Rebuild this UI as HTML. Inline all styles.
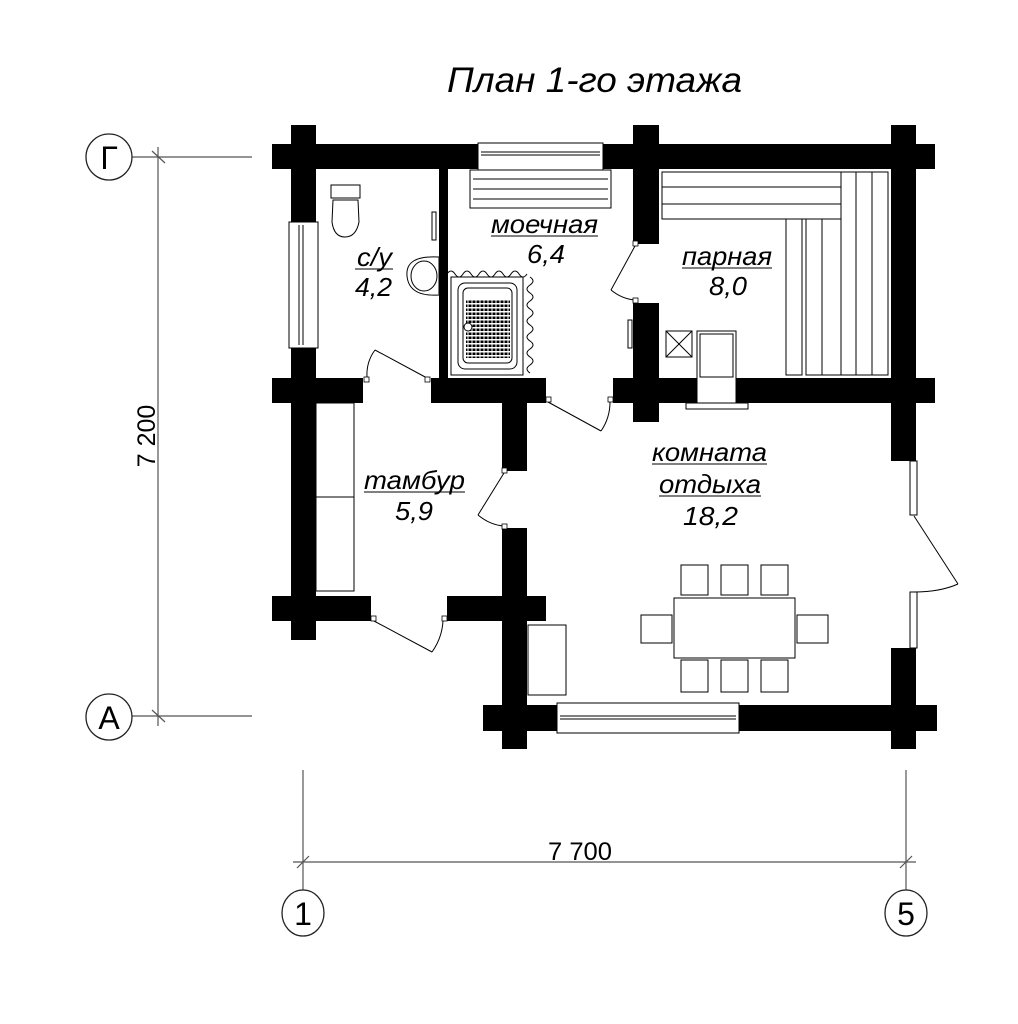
<!DOCTYPE html>
<html><head><meta charset="utf-8"><style>
html,body{margin:0;padding:0;background:#fff;}
svg{display:block;}
text{font-family:"Liberation Sans",sans-serif;fill:#000;}
</style></head><body>
<svg width="1018" height="1024" viewBox="0 0 1018 1024" xmlns="http://www.w3.org/2000/svg">
<defs>
<pattern id="dots" width="4" height="4" patternUnits="userSpaceOnUse"><rect x="0.5" y="0.5" width="3" height="2.5" fill="#000"/></pattern>
</defs>
<text x="447" y="92" font-size="35" font-style="italic" textLength="295" lengthAdjust="spacingAndGlyphs">План 1-го этажа</text>

<!-- dimension lines -->
<g stroke="#555" stroke-width="1.2" fill="none">
<line x1="132" y1="157" x2="252" y2="157"/>
<line x1="132" y1="716" x2="252" y2="716"/>
<line x1="158" y1="147" x2="158" y2="726"/>
<line x1="152" y1="151" x2="165" y2="163"/>
<line x1="152" y1="710" x2="165" y2="722"/>
<line x1="303" y1="770" x2="303" y2="890"/>
<line x1="906" y1="770" x2="906" y2="890"/>
<line x1="293" y1="862" x2="916" y2="862"/>
<line x1="297" y1="868" x2="309" y2="856"/>
<line x1="900" y1="868" x2="912" y2="856"/>
</g>
<g stroke="#222" stroke-width="1.3" fill="#fff">
<circle cx="109" cy="157" r="23"/>
<circle cx="109" cy="717" r="23"/>
<ellipse cx="303" cy="913" rx="21" ry="23"/>
<ellipse cx="906" cy="913" rx="21" ry="23"/>
</g>
<text x="109" y="169" font-size="32" text-anchor="middle">Г</text>
<text x="109" y="729" font-size="32" text-anchor="middle">А</text>
<text x="303" y="925" font-size="32" text-anchor="middle">1</text>
<text x="906" y="925" font-size="32" text-anchor="middle">5</text>
<text x="548" y="860" font-size="25" textLength="64" lengthAdjust="spacingAndGlyphs">7 700</text>
<text transform="translate(155,436) rotate(-90)" font-size="25" text-anchor="middle">7 200</text>

<!-- walls -->
<g fill="#000">
<rect x="272" y="144" width="206" height="25"/>
<rect x="603" y="144" width="332" height="25"/>
<rect x="291" y="125" width="25" height="97"/>
<rect x="291" y="348" width="25" height="292"/>
<rect x="439" y="169" width="9" height="209"/>
<rect x="272" y="378" width="91" height="25"/>
<rect x="431" y="378" width="115" height="25"/>
<rect x="613" y="378" width="84" height="25"/>
<rect x="736" y="378" width="199" height="25"/>
<rect x="502" y="403" width="25" height="68"/>
<rect x="502" y="528" width="25" height="221"/>
<rect x="633" y="125" width="26" height="119"/>
<rect x="633" y="303" width="26" height="119"/>
<rect x="891" y="125" width="25" height="336"/>
<rect x="891" y="648" width="25" height="101"/>
<rect x="272" y="596" width="99" height="25"/>
<rect x="447" y="596" width="99" height="25"/>
<rect x="483" y="705" width="74" height="26"/>
<rect x="739" y="705" width="198" height="26"/>
</g>

<g fill="#fff" stroke="#000" stroke-width="1">
<rect x="289" y="222" width="29" height="126"/>
<line x1="299" y1="225" x2="299" y2="345"/><line x1="303" y1="225" x2="303" y2="345"/>
<rect x="478" y="143" width="125" height="27"/>
<line x1="481" y1="152" x2="600" y2="152"/><line x1="481" y1="155" x2="600" y2="155"/>
<rect x="557" y="703" width="182" height="30"/>
<line x1="560" y1="716" x2="736" y2="716"/><line x1="560" y1="719" x2="736" y2="719"/>
<rect x="910" y="461" width="7" height="54"/>
<rect x="910" y="592" width="7" height="56"/>
<rect x="662" y="172" width="179" height="47"/>
<line x1="662" y1="187" x2="841" y2="187"/><line x1="662" y1="204" x2="841" y2="204"/>
<rect x="841" y="172" width="47" height="203"/>
<line x1="856" y1="172" x2="856" y2="375"/><line x1="872" y1="172" x2="872" y2="375"/>
<rect x="786" y="219" width="16" height="156"/>
<rect x="806" y="219" width="35" height="156"/>
<line x1="822" y1="219" x2="822" y2="375"/>
<rect x="666" y="331" width="26" height="26"/>
<line x1="666" y1="331" x2="692" y2="357"/><line x1="692" y1="331" x2="666" y2="357"/>
<rect x="697" y="331" width="39" height="72"/>
<rect x="700" y="334" width="33" height="43"/>
<rect x="686" y="403" width="62" height="6"/>
<rect x="470" y="170" width="141" height="38"/>
<line x1="473" y1="179" x2="608" y2="179"/><line x1="473" y1="189" x2="608" y2="189"/><line x1="473" y1="199" x2="608" y2="199"/>
<rect x="331" y="185" width="29" height="13"/>
<path d="M333 200 L358 200 L359 222 Q356 237 345 237 Q334 237 332 222 Z"/>
<path d="M439 257 Q405 255 407 276 Q409 297 439 295 Z"/>
<ellipse cx="424" cy="276" rx="13" ry="15"/>
<rect x="451" y="277" width="72" height="98"/>
<rect x="458" y="283" width="59" height="86" rx="7"/>
<rect x="463" y="288" width="49" height="75" rx="5"/>
<rect x="316" y="403" width="38" height="188"/>
<line x1="316" y1="497" x2="354" y2="497"/>
<rect x="528" y="625" width="38" height="70"/>
<rect x="674" y="598" width="121" height="60"/>
<rect x="681" y="565" width="27" height="30"/><rect x="721" y="565" width="27" height="30"/><rect x="761" y="565" width="27" height="30"/>
<rect x="681" y="660" width="27" height="32"/><rect x="721" y="660" width="27" height="32"/><rect x="761" y="660" width="27" height="32"/>
<rect x="641" y="615" width="31" height="28"/><rect x="797" y="615" width="31" height="28"/>
<rect x="432" y="212" width="4" height="28"/>
<rect x="628" y="320" width="4" height="28"/>
</g>
<rect x="466" y="300" width="44" height="58" fill="url(#dots)"/>
<circle cx="468" cy="327" r="4" fill="#fff" stroke="#000"/>
<g stroke="#000" stroke-width="1" fill="none">
<path d="M447 274 q4 -6 8 0 q4 6 8 0 q4 -6 8 0 q4 6 8 0 q4 -6 8 0 q4 6 8 0 q4 -6 8 0 q4 6 8 0 q4 -6 8 0 q4 6 8 0"/>
<path d="M530 277 q6 4 0 8 q-6 4 0 8 q6 4 0 8 q-6 4 0 8 q6 4 0 8 q-6 4 0 8 q6 4 0 8 q-6 4 0 8 q6 4 0 8 q-6 4 0 8 q6 4 0 8 q-6 4 0 8"/>
<line x1="427" y1="378" x2="375" y2="350"/><path d="M375 350 Q366 362 367 378"/>
<line x1="548" y1="402" x2="601" y2="431"/><path d="M601 431 Q610 418 610 402"/>
<line x1="504" y1="473" x2="478" y2="515"/><path d="M478 515 Q490 525 504 526"/>
<line x1="374" y1="621" x2="432" y2="652"/><path d="M432 652 Q442 638 443 621"/>
<line x1="635" y1="246" x2="611" y2="290"/><path d="M611 290 Q622 299 635 300"/>
<line x1="914" y1="516" x2="958" y2="584"/><path d="M958 584 Q940 592 914 592"/>
</g>
<g fill="#fff" stroke="#000" stroke-width="0.8">
<rect x="425" y="377" width="5" height="5"/><rect x="364" y="377" width="5" height="5"/>
<rect x="546" y="397" width="5" height="5"/><rect x="608" y="397" width="5" height="5"/>
<rect x="502" y="468" width="5" height="5"/><rect x="502" y="524" width="5" height="5"/>
<rect x="371" y="616" width="5" height="5"/><rect x="442" y="616" width="5" height="5"/>
<rect x="633" y="241" width="5" height="5"/><rect x="633" y="298" width="5" height="5"/>
</g>

<g font-size="26" font-style="italic" lengthAdjust="spacingAndGlyphs">
<text x="357" y="266" textLength="35" lengthAdjust="spacingAndGlyphs">с/у</text><line x1="355" y1="269" x2="393" y2="269" stroke="#000"/>
<text x="355" y="296" textLength="37" lengthAdjust="spacingAndGlyphs">4,2</text>
<text x="491" y="233" textLength="107" lengthAdjust="spacingAndGlyphs">моечная</text><line x1="491" y1="236" x2="598" y2="236" stroke="#000"/>
<text x="527" y="263" textLength="38" lengthAdjust="spacingAndGlyphs">6,4</text>
<text x="682" y="265" textLength="90" lengthAdjust="spacingAndGlyphs">парная</text><line x1="682" y1="268" x2="772" y2="268" stroke="#000"/>
<text x="709" y="295" textLength="38" lengthAdjust="spacingAndGlyphs">8,0</text>
<text x="364" y="489" textLength="101" lengthAdjust="spacingAndGlyphs">тамбур</text><line x1="364" y1="492" x2="465" y2="492" stroke="#000"/>
<text x="395" y="520" textLength="38" lengthAdjust="spacingAndGlyphs">5,9</text>
<text x="652" y="461" textLength="115" lengthAdjust="spacingAndGlyphs">комната</text><line x1="652" y1="464" x2="767" y2="464" stroke="#000"/>
<text x="659" y="493" textLength="102" lengthAdjust="spacingAndGlyphs">отдыха</text><line x1="659" y1="496" x2="761" y2="496" stroke="#000"/>
<text x="683" y="525" textLength="55" lengthAdjust="spacingAndGlyphs">18,2</text>
</g>
</svg>
</body></html>
